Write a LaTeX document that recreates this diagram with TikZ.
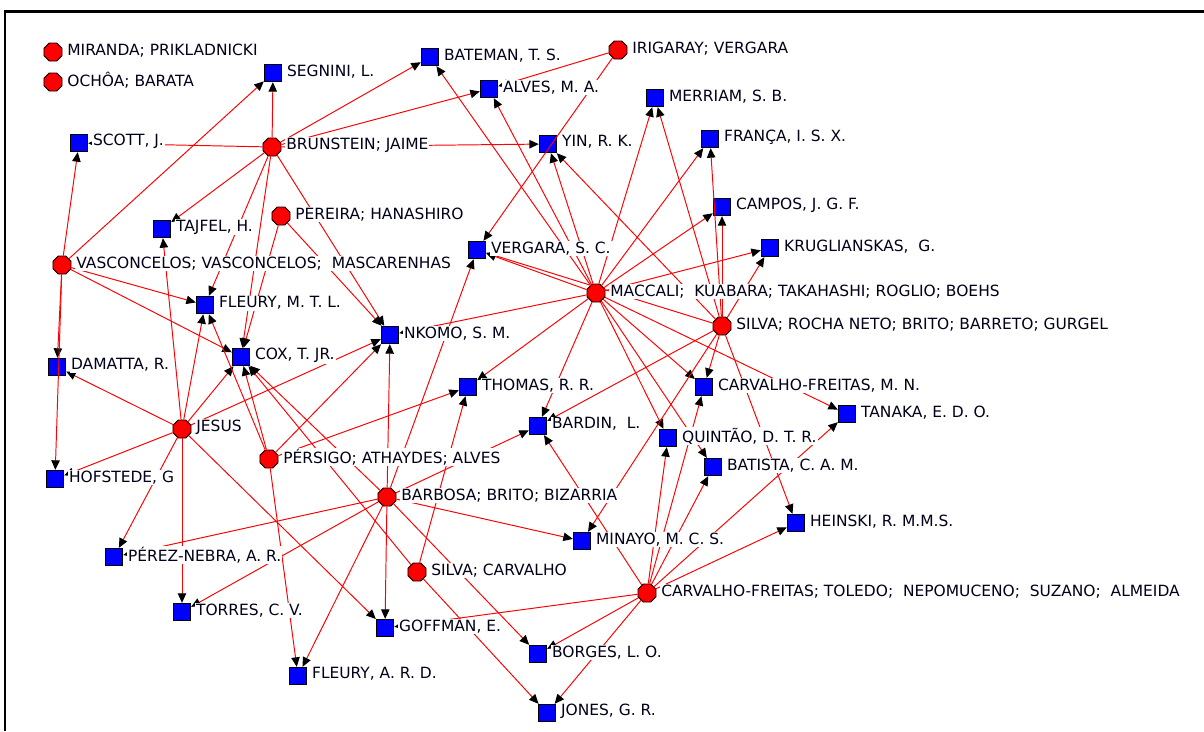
\documentclass[tikz,border=0pt]{standalone}
\usepackage{fontspec}
\setmainfont{DejaVu Sans}
\usetikzlibrary{shapes.geometric,arrows.meta}

\begin{document}
\begin{tikzpicture}[x=0.02cm,y=-0.02cm,
  font=\fontsize{8.8}{10}\selectfont,
  work/.style={regular polygon,regular polygon sides=8,draw=black,fill=red,minimum size=0.39cm,inner sep=0pt,line width=0.5pt},
  author/.style={rectangle,draw=black,fill=blue,minimum size=0.35cm,inner sep=0pt,line width=0.5pt},
  cite/.style={red,line width=0.55pt,-{Triangle[length=5.4pt,width=4.8pt,color=black,fill=black]}},
  lbl/.style={anchor=west,fill=white,inner sep=0.6pt,xshift=2pt,yshift=1pt,text=black!90!blue}]
  \useasboundingbox (0,0) rectangle (1204,731);
  \draw[line width=1.6pt] (5,731) -- (5,11.5) -- (1204,11.5);

  \node[work] (mir) at (53,52) {};
  \node[work] (och) at (53,82) {};
  \node[work] (brun) at (272,147) {};
  \node[work] (pere) at (281,216) {};
  \node[work] (vasc) at (62,265) {};
  \node[work] (irig) at (618,50) {};
  \node[work] (macc) at (596,293) {};
  \node[work] (silr) at (722,326) {};
  \node[work] (jes) at (182,429) {};
  \node[work] (pers) at (269,459) {};
  \node[work] (barb) at (387,497) {};
  \node[work] (silc) at (417,572) {};
  \node[work] (cfr) at (647,593) {};

  \node[author] (segn) at (273,73) {};
  \node[author] (bate) at (430,57) {};
  \node[author] (alve) at (489,89) {};
  \node[author] (merr) at (655,98) {};
  \node[author] (scot) at (79,143) {};
  \node[author] (yin) at (548,144) {};
  \node[author] (fran) at (710,139) {};
  \node[author] (camp) at (722,207) {};
  \node[author] (tajf) at (162,229) {};
  \node[author] (verg) at (477,250) {};
  \node[author] (krug) at (770,248) {};
  \node[author] (flmt) at (205,305) {};
  \node[author] (nkom) at (390,335) {};
  \node[author] (cox) at (241,357) {};
  \node[author] (dama) at (57,367) {};
  \node[author] (thom) at (468,387) {};
  \node[author] (cfmn) at (704,387) {};
  \node[author] (tana) at (847,414) {};
  \node[author] (bard) at (538,426) {};
  \node[author] (quin) at (668,438) {};
  \node[author] (bati) at (713,467) {};
  \node[author] (hofs) at (55,479) {};
  \node[author] (hein) at (796,523) {};
  \node[author] (pneb) at (114,557) {};
  \node[author] (mina) at (582,541) {};
  \node[author] (torr) at (182,612) {};
  \node[author] (goff) at (385,628) {};
  \node[author] (borg) at (538,654) {};
  \node[author] (flar) at (298,676) {};
  \node[author] (jone) at (547,713) {};

  \path[cite] (brun) edge (segn) edge (bate) edge (alve) edge (yin) edge (scot)
    edge (tajf) edge (flmt) edge (cox) edge (nkom);
  \path[cite] (pere) edge (cox) edge (nkom);
  \path[cite] (vasc) edge (scot) edge (segn) edge (dama) edge (hofs) edge (flmt) edge (cox);
  \path[cite] (irig) edge (alve) edge (verg);
  \path[cite] (macc) edge (yin) edge (alve) edge (bate) edge (merr) edge (fran)
    edge (camp) edge (krug) edge (verg) edge (nkom) edge (thom) edge (bard)
    edge (quin) edge (cfmn) edge (bati) edge (tana);
  \path[cite] (silr) edge (yin) edge (merr) edge (fran) edge (camp) edge (krug)
    edge (verg) edge (bard) edge (mina) edge (cfmn) edge (hein);
  \path[cite] (jes) edge (dama) edge (tajf) edge (flmt) edge (cox) edge (nkom)
    edge (hofs) edge (pneb) edge (torr) edge (goff);
  \path[cite] (pers) edge (flmt) edge (cox) edge (nkom) edge (thom) edge (flar);
  \path[cite] (barb) edge (nkom) edge (verg) edge (cox) edge (bard) edge (mina)
    edge (pneb) edge (torr) edge (flar) edge (goff) edge (borg);
  \path[cite] (silc) edge (cox) edge (thom) edge (jone);
  \path[cite] (cfr) edge (bard) edge (quin) edge (cfmn) edge (bati) edge (hein)
    edge (tana) edge (borg) edge (jone) edge (goff);

  \node[lbl] (l-mir) at (mir.east) {MIRANDA; PRIKLADNICKI};
  \node[lbl] (l-och) at (och.east) {OCHÔA; BARATA};
  \node[lbl] (l-brun) at (brun.east) {BRUNSTEIN; JAIME};
  \node[lbl] (l-pere) at (pere.east) {PEREIRA; HANASHIRO};
  \node[lbl] (l-vasc) at (vasc.east) {VASCONCELOS; VASCONCELOS;~ MASCARENHAS};
  \node[lbl] (l-irig) at (irig.east) {IRIGARAY; VERGARA};
  \node[lbl] (l-macc) at (macc.east) {MACCALI;~ KUABARA; TAKAHASHI; ROGLIO; BOEHS};
  \node[lbl] (l-silr) at (silr.east) {SILVA; ROCHA NETO; BRITO; BARRETO; GURGEL};
  \node[lbl] (l-jes) at (jes.east) {JESUS};
  \node[lbl] (l-pers) at (pers.east) {PÉRSIGO; ATHAYDES; ALVES};
  \node[lbl] (l-barb) at (barb.east) {BARBOSA; BRITO; BIZARRIA};
  \node[lbl] (l-silc) at (silc.east) {SILVA; CARVALHO};
  \node[lbl] (l-cfr) at (cfr.east) {CARVALHO-FREITAS; TOLEDO;~ NEPOMUCENO;~ SUZANO;~ ALMEIDA};

  \node[lbl] (l-segn) at (segn.east) {SEGNINI, L.};
  \node[lbl] (l-bate) at (bate.east) {BATEMAN, T. S.};
  \node[lbl] (l-alve) at (alve.east) {ALVES, M. A.};
  \node[lbl] (l-merr) at (merr.east) {MERRIAM, S. B.};
  \node[lbl] (l-scot) at (scot.east) {SCOTT, J.};
  \node[lbl] (l-yin) at (yin.east) {YIN, R. K.};
  \node[lbl] (l-fran) at (fran.east) {FRANÇA, I. S. X.};
  \node[lbl] (l-camp) at (camp.east) {CAMPOS, J. G. F.};
  \node[lbl] (l-tajf) at (tajf.east) {TAJFEL, H.};
  \node[lbl] (l-verg) at (verg.east) {VERGARA, S. C.};
  \node[lbl] (l-krug) at (krug.east) {KRUGLIANSKAS,~ G.};
  \node[lbl] (l-flmt) at (flmt.east) {FLEURY, M. T. L.};
  \node[lbl] (l-nkom) at (nkom.east) {NKOMO, S. M.};
  \node[lbl] (l-cox) at (cox.east) {COX, T. JR.};
  \node[lbl] (l-dama) at (dama.east) {DAMATTA, R.};
  \node[lbl] (l-thom) at (thom.east) {THOMAS, R. R.};
  \node[lbl] (l-cfmn) at (cfmn.east) {CARVALHO-FREITAS, M. N.};
  \node[lbl] (l-tana) at (tana.east) {TANAKA, E. D. O.};
  \node[lbl] (l-bard) at (bard.east) {BARDIN,~ L.};
  \node[lbl] (l-quin) at (quin.east) {QUINTÃO, D. T. R.};
  \node[lbl] (l-bati) at (bati.east) {BATISTA, C. A. M.};
  \node[lbl] (l-hofs) at (hofs.east) {HOFSTEDE, G};
  \node[lbl] (l-hein) at (hein.east) {HEINSKI, R. M.M.S.};
  \node[lbl] (l-pneb) at (pneb.east) {PÉREZ-NEBRA, A. R.};
  \node[lbl] (l-mina) at (mina.east) {MINAYO, M. C. S.};
  \node[lbl] (l-torr) at (torr.east) {TORRES, C. V.};
  \node[lbl] (l-goff) at (goff.east) {GOFFMAN, E.};
  \node[lbl] (l-borg) at (borg.east) {BORGES, L. O.};
  \node[lbl] (l-flar) at (flar.east) {FLEURY, A. R. D.};
  \node[lbl] (l-jone) at (jone.east) {JONES, G. R.};
\end{tikzpicture}
\end{document}
